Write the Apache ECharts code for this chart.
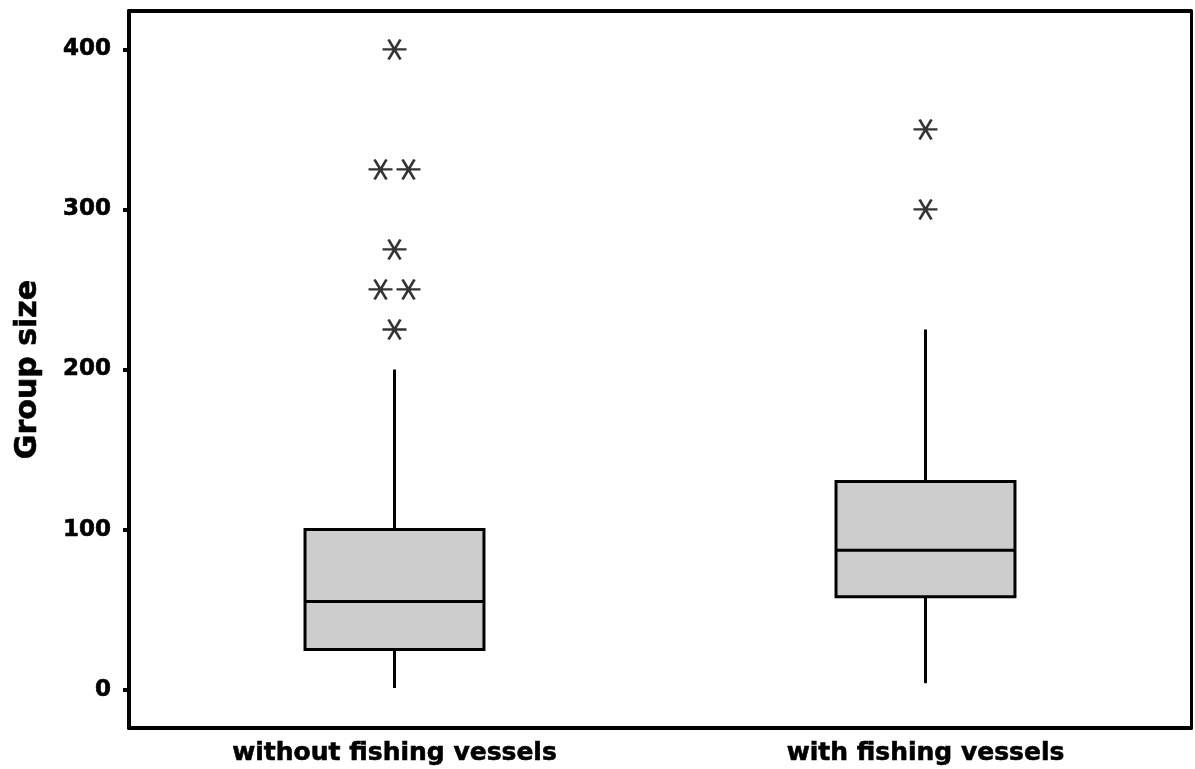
<!DOCTYPE html>
<html>
<head>
<meta charset="utf-8">
<script src="https://cdn.jsdelivr.net/npm/echarts@6/dist/echarts.min.js"></script>
<style>
html,body{margin:0;padding:0;background:#fff;}
#chart{width:1195px;height:769px;}
</style>
</head>
<body>
<div id="chart"></div>
<script>
var groups = ['without fishing vessels', 'with fishing vessels'];
// min, Q1, median, Q3, max (whisker ends)
var boxWithout = [1, 25, 55, 100, 200];
var boxWith = [4, 58, 87, 130, 225];
var outWithout = [400, 325, 325, 275, 250, 250, 225];
var outWith = [350, 300];
var yTicks = [0, 100, 200, 300, 400];

var fontFam = '"DejaVu Sans", Verdana, sans-serif';
var asterisk = 'path://M-10,0L10,0M-5,-8.66L5,8.66M-5,8.66L5,-8.66';

// boxes data for custom series
var boxData = [[0].concat(boxWithout), [1].concat(boxWith)];

// outliers, duplicates placed side by side
function outlierItems(idx, vals) {
	var res = [];
	var counts = {};
	vals.forEach(function(v){ counts[v] = (counts[v] || 0) + 1; });
	var seen = {};
	vals.forEach(function(v){
		var n = counts[v];
		var k = seen[v] || 0;
		seen[v] = k + 1;
		var off = (k - (n - 1) / 2) * 28;
		res.push({ value: [idx, v], symbolOffset: [off, 0] });
	});
	return res;
}
var outData = outlierItems(0, outWithout).concat(outlierItems(1, outWith));

function renderBox(params, api) {
	var idx = api.value(0);
	var lo = api.coord([idx, api.value(1)]);
	var q1 = api.coord([idx, api.value(2)]);
	var md = api.coord([idx, api.value(3)]);
	var q3 = api.coord([idx, api.value(4)]);
	var hi = api.coord([idx, api.value(5)]);
	var w = api.size([1, 0])[0] * 0.337;
	var x = lo[0];
	var st = { stroke: '#000', lineWidth: 3 };
	return {
		type: 'group',
		children: [
			{ type: 'line', shape: { x1: x, y1: lo[1], x2: x, y2: q1[1] }, style: st },
			{ type: 'line', shape: { x1: x, y1: q3[1], x2: x, y2: hi[1] }, style: st },
			{ type: 'rect', shape: { x: x - w / 2, y: q3[1], width: w, height: q1[1] - q3[1] },
				style: { fill: '#cccccc', stroke: '#000', lineWidth: 3 } },
			{ type: 'line', shape: { x1: x - w / 2, y1: md[1], x2: x + w / 2, y2: md[1] }, style: st }
		]
	};
}

var boldText = { color: '#000', fontFamily: fontFam, fontWeight: 'bold', textBorderColor: '#000', textBorderWidth: 0.6 };

var chart = echarts.init(document.getElementById('chart'));
var option = {
	animation: false,
	backgroundColor: '#fff',
	grid: { left: 129, right: 4, top: 11, bottom: 41, show: false },
	xAxis: [{
		type: 'category',
		data: groups,
		boundaryGap: true,
		axisLine: { onZero: false, lineStyle: { color: '#000', width: 4 } },
		axisTick: { alignWithLabel: true, length: 4, lineStyle: { color: '#000', width: 4 } },
		axisLabel: Object.assign({ fontSize: 25, margin: 13 }, boldText),
		splitLine: { show: false }
	}, {
		type: 'category',
		data: groups,
		position: 'top',
		axisLine: { onZero: false, lineStyle: { color: '#000', width: 4 } },
		axisTick: { show: false },
		axisLabel: { show: false }
	}],
	yAxis: [{
		type: 'value',
		min: -24,
		max: 424,
		name: 'Group size',
		nameLocation: 'middle',
		nameGap: 86,
		nameTextStyle: Object.assign({ fontSize: 30 }, boldText),
		axisLine: { show: true, onZero: false, lineStyle: { color: '#000', width: 4 } },
		axisTick: { show: true, length: 6, customValues: yTicks, lineStyle: { color: '#000', width: 4 } },
		axisLabel: Object.assign({ fontSize: 23, margin: 18, customValues: yTicks }, boldText),
		splitLine: { show: false }
	}, {
		type: 'value',
		min: -24,
		max: 424,
		position: 'right',
		axisLine: { show: true, onZero: false, lineStyle: { color: '#000', width: 3 } },
		axisTick: { show: false },
		axisLabel: { show: false },
		splitLine: { show: false }
	}],
	series: [{
		type: 'custom',
		renderItem: renderBox,
		data: boxData,
		encode: { x: 0, y: [1, 2, 3, 4, 5] },
		z: 2
	}, {
		type: 'scatter',
		data: outData,
		symbol: asterisk,
		symbolSize: [24, 20],
		itemStyle: { color: 'transparent', borderColor: '#000', borderWidth: 2.5 },
		z: 3
	}]
};
chart.setOption(option);
</script>
</body>
</html>
